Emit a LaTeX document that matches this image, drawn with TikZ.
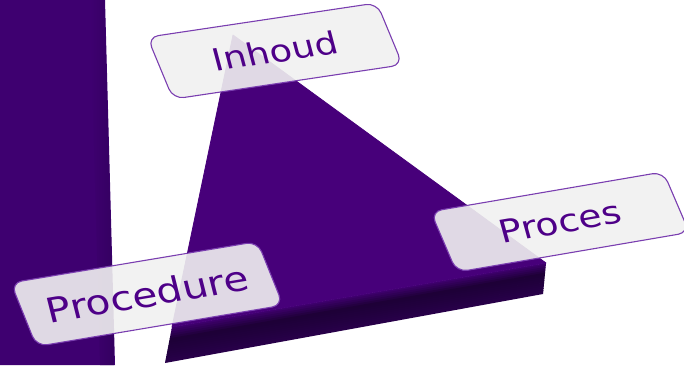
\documentclass[tikz,border=0pt]{standalone}
\usepackage{fontspec}
\usetikzlibrary{calc}
\newfontfamily\lblfont[FakeStretch=1.18]{DejaVu Sans}
\definecolor{barc}{RGB}{62,0,112}
\definecolor{barEdge}{RGB}{52,0,96}
\definecolor{triC}{RGB}{71,0,122}
\definecolor{faceTop}{RGB}{64,0,112}
\definecolor{faceDark}{RGB}{29,0,54}
\definecolor{faceBot}{RGB}{40,0,74}
\definecolor{boxfill}{RGB}{241,241,241}
\definecolor{boxline}{RGB}{122,62,176}
\definecolor{txtc}{RGB}{78,0,136}
\tikzset{
  lblbox/.style={draw=boxline, line width=1.1pt, fill=boxfill, fill opacity=0.9,
    draw opacity=1, rounded corners=11pt, inner sep=0pt, transform shape},
  lbltext/.style={text=txtc, inner sep=0pt, transform shape, xslant=0.14}
}
\begin{document}
\begin{tikzpicture}[x=1pt,y=-1pt]
\useasboundingbox (0,0) rectangle (684,365);
% left bar
\fill[barc] (0,0) -- (105,0) -- (115,365) -- (0,365) -- cycle;
\shade[left color=barc, right color=barEdge] (90,0) -- (104.5,0) -- (114.5,365) -- (100,365) -- cycle;
% slab front face
\coordinate (fA) at (172,327);
\coordinate (fB) at (546,263);
\coordinate (fC) at (543,294);
\coordinate (fD) at (165,363);
\foreach \i in {0,...,15}{
  \pgfmathsetmacro{\fa}{\i/16}
  \pgfmathsetmacro{\fb}{min((\i+1.3)/16,1)}
  \pgfmathsetmacro{\fm}{(\i+0.5)/16}
  \pgfmathsetmacro{\pa}{\fm<0.35 ? 100*(1-\fm/0.35) : 100*(1-(\fm-0.35)/0.65)}
  \ifdim\fm pt<0.35pt
    \colorlet{stripc}{faceTop!\pa!faceDark}
  \else
    \colorlet{stripc}{faceDark!\pa!faceBot}
  \fi
  \fill[stripc] ($(fA)!\fa!(fD)$) -- ($(fB)!\fa!(fC)$) -- ($(fB)!\fb!(fC)$) -- ($(fA)!\fb!(fD)$) -- cycle;
}
% triangle top face
\filldraw[triC, line width=0.8pt, line join=round] (233,35) -- (fB) -- (fA) -- cycle;
% labels
\begin{scope}[shift={(275,51)}, rotate=8.5, xslant=-0.25]
  \node[lblbox, minimum width=232pt, minimum height=65pt] (inhoudbox) {};
  \node[lbltext, font=\lblfont\fontsize{31}{31}\selectfont] (inhoud) at (inhoudbox.center) {Inhoud};
\end{scope}
\begin{scope}[shift={(147,294)}, rotate=9.5, xslant=-0.22]
  \node[lblbox, minimum width=250pt, minimum height=67pt] (procedurebox) {};
  \node[lbltext, font=\lblfont\fontsize{34.4}{34.4}\selectfont] (procedure) at (procedurebox.center) {Procedure};
\end{scope}
\begin{scope}[shift={(560,222)}, rotate=9.7, xslant=-0.24]
  \node[lblbox, minimum width=236pt, minimum height=64pt] (procesbox) {};
  \node[lbltext, font=\lblfont\fontsize{31.8}{31.8}\selectfont] (proces) at (procesbox.center) {Proces};
\end{scope}
\end{tikzpicture}
\end{document}
